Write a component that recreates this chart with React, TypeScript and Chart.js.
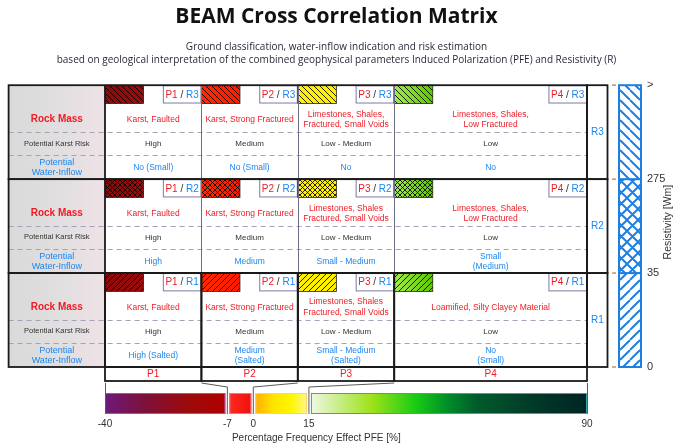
import React, { useEffect, useRef } from "react";
import { Chart, registerables } from "chart.js";

Chart.register(...registerables);

// ---------- data ----------
const TITLE = "BEAM Cross Correlation Matrix";
const SUBTITLE_LINES = [
  "Ground classification, water-inflow indication and risk estimation",
  "based on geological interpretation of the combined geophysical parameters Induced Polarization (PFE) and Resistivity (R)",
];
const PFE_CLASSES = ["P1", "P2", "P3", "P4"];
const PFE_BOUNDS = [-40, -7, 0, 15, 90];
const PFE_TICKS = [-40, -7, 0, 15, 90];
const RES_CLASSES = ["R1", "R2", "R3"]; // bottom to top
const RES_TICK_VALUES = [0, 1, 2, 3];
const RES_TICK_LABELS = ["0", "35", "275", ">"];
const COLUMN_WEIGHTS = [1, 1, 1, 2];

const ROW_LABELS = ["Rock Mass", "Potential Karst Risk", "Potential\nWater-Inflow"];

const ROCK_R3 = ["Karst, Faulted", "Karst, Strong Fractured", "Limestones, Shales,\nFractured, Small Voids", "Limestones, Shales,\nLow Fractured"];
const ROCK_R2 = ["Karst, Faulted", "Karst, Strong Fractured", "Limestones, Shales\nFractured, Small Voids", "Limestones, Shales,\nLow Fractured"];
const ROCK_R1 = ["Karst, Faulted", "Karst, Strong Fractured", "Limestones, Shales\nFractured, Small Voids", "Loamified, Silty Clayey Material"];

const KARST_R3 = ["High", "Medium", "Low - Medium", "Low"];
const KARST_R2 = ["High", "Medium", "Low - Medium", "Low"];
const KARST_R1 = ["High", "Medium", "Low - Medium", "Low"];

const WATER_R3 = ["No (Small)", "No (Small)", "No", "No"];
const WATER_R2 = ["High", "Medium", "Small - Medium", "Small\n(Medium)"];
const WATER_R1 = ["High (Salted)", "Medium\n(Salted)", "Small - Medium\n(Salted)", "No\n(Small)"];

const AXIS_X_TITLE = "Percentage Frequency Effect PFE [%]";
const AXIS_Y_TITLE = "Resistivity [Wm]";

// ---------- styles ----------
const FONT = '"Liberation Sans", Arial, sans-serif';
const RED = "#ee1b24";
const BLUE = "#1a86f0";
const DARK = "#333333";
const SWATCH_BASE = [
  ["#8e0a0a", "#9a0c0c"],
  ["#ff2a00", "#ff1a00"],
  ["#ffee10", "#fff000"],
  ["#a6ea50", "#5cc800"],
];
const ROW_HATCH = ["fwd", "cross", "back"]; // R1, R2, R3
const BAR_STOPS = [
  [[0, "#6c1a7c"], [0.35, "#7e1036"], [0.7, "#9c0a0a"], [1, "#b00000"]],
  [[0, "#ff2a1e"], [1, "#f01010"]],
  [[0, "#ffae00"], [0.35, "#ffe400"], [0.7, "#fff600"], [1, "#fff68a"]],
  [[0, "#f0f8e2"], [0.1, "#c8ee88"], [0.22, "#9ee21a"], [0.38, "#18cc14"], [0.5, "#008a2a"], [0.6, "#005c2c"], [0.8, "#003a28"], [1, "#002424"]],
];
const BAR_BORDERS = ["#c04a9a", "#ff7070", "#ffd070", "#30a8a8"];

function makePattern(ctx: CanvasRenderingContext2D, kind: string, size: number, color: string, lw: number) {
  const c = document.createElement("canvas");
  c.width = size;
  c.height = size;
  const g = c.getContext("2d")!;
  g.strokeStyle = color;
  g.lineWidth = lw;
  g.beginPath();
  for (let k = -1; k <= 1; k++) {
    if (kind === "back" || kind === "cross") {
      g.moveTo(k * size, 0);
      g.lineTo(k * size + size, size);
    }
    if (kind === "fwd" || kind === "cross") {
      g.moveTo(k * size + size, 0);
      g.lineTo(k * size, size);
    }
  }
  g.stroke();
  return ctx.createPattern(c, "repeat")!;
}

function multiText(ctx: CanvasRenderingContext2D, s: string, cx: number, cy: number, lh: number) {
  const lines = s.split("\n");
  const y0 = cy - ((lines.length - 1) * lh) / 2;
  lines.forEach((l, i) => ctx.fillText(l, cx, y0 + i * lh));
}

function partsText(ctx: CanvasRenderingContext2D, parts: [string, string][], cx: number, cy: number) {
  const total = parts.reduce((a, p) => a + ctx.measureText(p[0]).width, 0);
  let x = cx - total / 2;
  ctx.textAlign = "left";
  parts.forEach(([t, c]) => {
    ctx.fillStyle = c;
    ctx.fillText(t, x, cy);
    x += ctx.measureText(t).width;
  });
  ctx.textAlign = "center";
}

const beamPlugin = {
  id: "beamMatrix",
  afterDraw(chart: any) {
    const ctx: CanvasRenderingContext2D = chart.ctx;
    const xs = chart.scales.x;
    const xm = chart.scales.xm;
    const ys = chart.scales.y;
    const starts = [0];
    COLUMN_WEIGHTS.forEach((w, i) => starts.push(starts[i] + w));
    const colL = (i: number) => xm.getPixelForValue(starts[i]);
    const colR = (i: number) => xm.getPixelForValue(starts[i + 1]);
    const unit = xm.getPixelForValue(1) - xm.getPixelForValue(0);
    const labL = xm.getPixelForValue(-1);
    const labR = xm.getPixelForValue(0);
    const matR = xm.getPixelForValue(starts[starts.length - 1]);
    const top = ys.getPixelForValue(RES_CLASSES.length);
    const bottom = ys.getPixelForValue(0);
    const rockRows = [ROCK_R1, ROCK_R2, ROCK_R3];
    const karstRows = [KARST_R1, KARST_R2, KARST_R3];
    const waterRows = [WATER_R1, WATER_R2, WATER_R3];

    ctx.save();
    ctx.textAlign = "center";
    ctx.textBaseline = "middle";

    // label column background
    const bg = ctx.createLinearGradient(labL, 0, labR, 0);
    bg.addColorStop(0, "#dadada");
    bg.addColorStop(0.6, "#e2dfe1");
    bg.addColorStop(1, "#efe2e6");
    ctx.fillStyle = bg;
    ctx.fillRect(labL, top, labR - labL, bottom - top);

    RES_CLASSES.forEach((rName, r) => {
      const rt = ys.getPixelForValue(r + 1);
      const rb = ys.getPixelForValue(r);
      const h = rb - rt;
      const swH = h * 0.195;
      const swatchPat = makePattern(ctx, ROW_HATCH[r], r === 1 ? 5 : 6, "rgba(0,0,0,0.85)", 1);

      // dashed separators
      ctx.strokeStyle = "#a4a2b4";
      ctx.lineWidth = 1;
      ctx.setLineDash([5, 4]);
      [0.5, 0.745].forEach((f) => {
        ctx.beginPath();
        ctx.moveTo(labL, Math.round(rt + h * f) + 0.5);
        ctx.lineTo(matR, Math.round(rt + h * f) + 0.5);
        ctx.stroke();
      });
      ctx.setLineDash([]);

      // row labels
      ctx.fillStyle = RED;
      ctx.font = `bold 10px ${FONT}`;
      ctx.fillText(ROW_LABELS[0], (labL + labR) / 2, rt + h * 0.365);
      ctx.fillStyle = DARK;
      ctx.font = `7.5px ${FONT}`;
      ctx.fillText(ROW_LABELS[1], (labL + labR) / 2, rt + h * 0.62);
      ctx.fillStyle = BLUE;
      ctx.font = `9px ${FONT}`;
      multiText(ctx, ROW_LABELS[2], (labL + labR) / 2, rt + h * 0.88, 10);

      PFE_CLASSES.forEach((pName, i) => {
        const x0 = colL(i);
        const x1 = colR(i);
        const cx = (x0 + x1) / 2;
        // swatch
        const sg = ctx.createLinearGradient(x0, 0, x0 + unit * 0.4, 0);
        sg.addColorStop(0, SWATCH_BASE[i][0]);
        sg.addColorStop(1, SWATCH_BASE[i][1]);
        ctx.fillStyle = sg;
        ctx.fillRect(x0, rt, unit * 0.4, swH);
        ctx.fillStyle = swatchPat;
        ctx.fillRect(x0, rt, unit * 0.4, swH);
        ctx.strokeStyle = "#222";
        ctx.lineWidth = 0.8;
        ctx.strokeRect(x0, rt, unit * 0.4, swH);
        // class label box
        const bw = unit * 0.4;
        ctx.fillStyle = "#fff";
        ctx.fillRect(x1 - bw, rt, bw, swH);
        ctx.strokeStyle = "#7c7aa6";
        ctx.lineWidth = 1;
        ctx.strokeRect(x1 - bw + 0.5, rt + 0.5, bw - 1, swH - 1);
        ctx.font = `10px ${FONT}`;
        partsText(ctx, [[pName, RED], [" / ", DARK], [rName, BLUE]], x1 - bw / 2, rt + swH / 2 + 0.5);
        // rock mass
        ctx.fillStyle = RED;
        ctx.font = `8.5px ${FONT}`;
        multiText(ctx, rockRows[r][i], cx, rt + h * 0.365, 10.5);
        // karst risk
        ctx.fillStyle = DARK;
        ctx.font = `8px ${FONT}`;
        ctx.fillText(karstRows[r][i], cx, rt + h * 0.62);
        // water inflow
        ctx.fillStyle = BLUE;
        ctx.font = `8.5px ${FONT}`;
        multiText(ctx, waterRows[r][i], cx, rt + h * 0.88, 10);
        // column divider
        if (i > 0) {
          ctx.strokeStyle = "#6c6c84";
          ctx.lineWidth = 1;
          ctx.beginPath();
          ctx.moveTo(Math.round(x0) + 0.5, rt);
          ctx.lineTo(Math.round(x0) + 0.5, rb);
          ctx.stroke();
        }
      });

      // row box
      ctx.strokeStyle = "#1a1a1a";
      ctx.lineWidth = 1.8;
      ctx.strokeRect(labL, rt, matR - labL, h);
      ctx.beginPath();
      ctx.moveTo(labR, rt);
      ctx.lineTo(labR, rb);
      ctx.stroke();

      // R column
      ctx.strokeRect(matR, rt, 20.5, h);
      ctx.fillStyle = BLUE;
      ctx.font = `10px ${FONT}`;
      ctx.fillText(rName, matR + 10.5, rt + h * 0.5);

      // resistivity bar segment
      const bx0 = matR + 32;
      const bw2 = 22;
      ctx.fillStyle = "#fff";
      ctx.fillRect(bx0, rt, bw2, h);
      ctx.fillStyle = makePattern(ctx, ROW_HATCH[r], r === 1 ? 11 : 10, "#1e7fe0", 2);
      ctx.fillRect(bx0, rt, bw2, h);
      ctx.strokeStyle = "#1e7fe0";
      ctx.lineWidth = 2;
      ctx.strokeRect(bx0, rt, bw2, h);
    });

    // resistivity tick dashes
    ctx.strokeStyle = "#c8905a";
    ctx.lineWidth = 1.5;
    RES_TICK_VALUES.forEach((v) => {
      const y = ys.getPixelForValue(v);
      ctx.beginPath();
      ctx.moveTo(matR + 25, y);
      ctx.lineTo(matR + 29, y);
      ctx.stroke();
    });

    // bottom PFE class row
    const pTop = bottom;
    const pBot = bottom + 14;
    const r1Top = ys.getPixelForValue(1);
    ctx.strokeStyle = "#1a1a1a";
    ctx.lineWidth = 1.8;
    PFE_CLASSES.forEach((pName, i) => {
      const x0 = colL(i);
      const x1 = colR(i);
      ctx.strokeRect(x0, r1Top, x1 - x0, pBot - r1Top);
      ctx.beginPath();
      ctx.moveTo(x0, pTop);
      ctx.lineTo(x1, pTop);
      ctx.stroke();
      ctx.fillStyle = RED;
      ctx.font = `10px ${FONT}`;
      ctx.fillText(pName, (x0 + x1) / 2, (pTop + pBot) / 2 + 0.5);
    });

    // colour bar
    const barTop = pBot + 12;
    const barBot = barTop + 21;
    PFE_CLASSES.forEach((_, i) => {
      const a = xs.getPixelForValue(PFE_BOUNDS[i]) + (i === 0 ? 0 : 2);
      const b = xs.getPixelForValue(PFE_BOUNDS[i + 1]) - (i === PFE_CLASSES.length - 1 ? 0 : 2);
      const g = ctx.createLinearGradient(a, 0, b, 0);
      BAR_STOPS[i].forEach(([s, c]) => g.addColorStop(s as number, c as string));
      ctx.fillStyle = g;
      ctx.fillRect(a, barTop, b - a, barBot - barTop);
      ctx.strokeStyle = BAR_BORDERS[i];
      ctx.lineWidth = 1;
      ctx.strokeRect(a + 0.5, barTop + 0.5, b - a - 1, barBot - barTop - 1);
    });

    // connectors
    ctx.strokeStyle = "#5a5a5a";
    ctx.lineWidth = 1;
    PFE_BOUNDS.forEach((v, i) => {
      const bx = xs.getPixelForValue(v);
      const cxp = i === 0 ? colL(0) : colR(i - 1);
      ctx.beginPath();
      if (i === 0 || i === PFE_BOUNDS.length - 1) {
        ctx.moveTo(Math.round(bx) + 0.5, pBot + 2);
        ctx.lineTo(Math.round(bx) + 0.5, barBot);
      } else {
        ctx.moveTo(cxp, pBot + 2);
        ctx.lineTo(bx, pBot + 6);
        ctx.lineTo(bx, barBot);
      }
      ctx.stroke();
    });

    // axis titles
    ctx.fillStyle = DARK;
    ctx.font = `10px ${FONT}`;
    ctx.fillText(AXIS_X_TITLE, xs.getPixelForValue(17), barBot + 24);
    ctx.save();
    ctx.translate(matR + 81, (top + bottom) / 2 - 4);
    ctx.rotate(-Math.PI / 2);
    ctx.font = `10.5px ${FONT}`;
    ctx.fillText(AXIS_Y_TITLE, 0, 0);
    ctx.restore();

    ctx.restore();
  },
};

export default function App() {
  const ref = useRef<HTMLCanvasElement>(null);
  useEffect(() => {
    document.body.style.margin = "0";
    const canvas = ref.current!;
    const chart = new Chart(canvas, {
      type: "scatter",
      data: { datasets: [{ data: [], xAxisID: "x", yAxisID: "y" }] },
      options: {
        responsive: false,
        animation: false,
        events: [],
        layout: { padding: { left: 0, right: 0, top: 0, bottom: 0 } },
        plugins: {
          legend: { display: false },
          tooltip: { enabled: false },
          title: {
            display: true,
            text: TITLE,
            color: "#111",
            font: { family: '"Open Sans", sans-serif', size: 21, weight: "bold", lineHeight: 1.2 },
            padding: { top: 4, bottom: 0 },
          },
          subtitle: {
            display: true,
            text: SUBTITLE_LINES,
            color: "#2a2a3a",
            font: { family: '"Open Sans", sans-serif', size: 10, lineHeight: 1.3 },
            padding: { top: 11, bottom: 19 },
          },
        },
        scales: {
          x: {
            type: "linear",
            position: "bottom",
            min: PFE_BOUNDS[0],
            max: PFE_BOUNDS[PFE_BOUNDS.length - 1],
            afterBuildTicks: (s: any) => {
              s.ticks = PFE_TICKS.map((v) => ({ value: v }));
            },
            afterFit: (s: any) => {
              s.height = 81;
            },
            ticks: {
              autoSkip: false,
              maxRotation: 0,
              padding: 51,
              color: DARK,
              font: { family: FONT, size: 10 },
              callback: (v: any) => String(v),
            },
            grid: { display: false, drawTicks: false },
            border: { display: false },
          },
          xm: {
            type: "linear",
            position: "bottom",
            min: 0,
            max: COLUMN_WEIGHTS.reduce((a, b) => a + b, 0),
            display: false,
          },
          yl: {
            type: "linear",
            position: "left",
            display: true,
            ticks: { display: false },
            grid: { display: false, drawTicks: false },
            border: { display: false },
            afterFit: (s: any) => {
              s.width = 105;
            },
          },
          y: {
            type: "linear",
            position: "right",
            min: 0,
            max: RES_TICK_VALUES.length - 1,
            afterBuildTicks: (s: any) => {
              s.ticks = RES_TICK_VALUES.map((v) => ({ value: v }));
            },
            afterFit: (s: any) => {
              s.width = 86;
            },
            ticks: {
              padding: 60,
              color: DARK,
              font: { family: FONT, size: 11 },
              callback: (v: any) => RES_TICK_LABELS[Math.round(v)],
            },
            grid: { display: false, drawTicks: false },
            border: { display: false },
          },
        },
      } as any,
      plugins: [beamPlugin],
    });
    return () => chart.destroy();
  }, []);
  return (
    <div style={{ width: 673, height: 448 }}>
      <canvas ref={ref} width={673} height={448} style={{ display: "block" }} />
    </div>
  );
}
